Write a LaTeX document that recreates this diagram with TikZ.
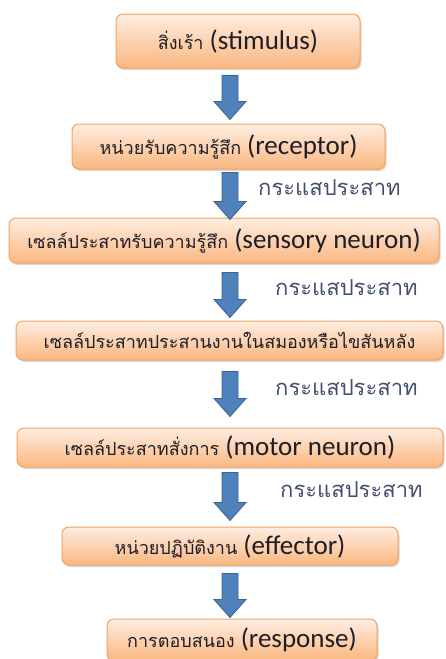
\documentclass[tikz,border=0pt]{standalone}
\usepackage{fontspec}
\setmainfont{Carlito}
\newfontfamily\thai[Script=Thai]{Loma}
\usetikzlibrary{shadows,calc}
\definecolor{boxtop}{HTML}{FEEDE1}
\definecolor{boxbot}{HTML}{FAB780}
\definecolor{boxline}{HTML}{F4A25F}
\definecolor{arrfill}{HTML}{4F81BD}
\definecolor{arrline}{HTML}{3A6390}
\definecolor{lab}{HTML}{44506C}
\definecolor{txt}{HTML}{1E1E28}
\newcommand\thtxt[1]{{\thai\fontsize{18}{21}\selectfont #1}}
\begin{document}
\begin{tikzpicture}[x=1pt,y=-1pt,
  stepbox/.style={draw=boxline, line width=1pt, rounded corners=7pt,
    top color=boxtop, bottom color=boxbot,
    drop shadow={shadow xshift=1.5pt, shadow yshift=-2pt, opacity=0.25, fill=black!60},
    font=\fontsize{27}{30}\selectfont, text=txt, inner sep=0pt},
  blockarrow/.style={fill=arrfill, draw=arrline, line width=0.8pt, line join=miter},
  nerve/.style={font=\thai\fontsize{22}{25}\selectfont, text=lab, anchor=west, inner sep=0pt}]
\useasboundingbox (0,0) rectangle (445,659);
\node[stepbox, minimum width=244pt, minimum height=54pt] (b1) at (238,41) {\thtxt{สิ่งเร้า} (stimulus)};
\node[stepbox, minimum width=313pt, minimum height=45pt] (b2) at (228.5,146.5) {\thtxt{หน่วยรับความรู้สึก} (receptor)};
\node[stepbox, minimum width=430pt, minimum height=45pt] (b3) at (224,240.5) {\thtxt{เซลล์ประสาทรับความรู้สึก} (sensory neuron)};
\node[stepbox, minimum width=427pt, minimum height=39pt] (b4) at (229.5,340.5) {\thtxt{เซลล์ประสาทประสานงานในสมองหรือไขสันหลัง}};
\node[stepbox, minimum width=426pt, minimum height=39pt] (b5) at (230,447.5) {\thtxt{เซลล์ประสาทสั่งการ} (motor neuron)};
\node[stepbox, minimum width=336pt, minimum height=38pt] (b6) at (230,546) {\thtxt{หน่วยปฏิบัติงาน} (effector)};
\node[stepbox, minimum width=270pt, minimum height=42pt] (b7) at (242,640) {\thtxt{การตอบสนอง} (response)};
\node[nerve] (l1) at (258,188) {กระแสประสาท};
\node[nerve] (l2) at (275,288) {กระแสประสาท};
\node[nerve] (l3) at (275,388) {กระแสประสาท};
\node[nerve] (l4) at (280,490) {กระแสประสาท};
\coordinate (ax) at (230,0);
\foreach \a/\b/\ta/\tb in {b1/b2/7/-4, b2/b3/3/2, b3/b4/9/-3, b4/b5/11/-11, b5/b6/5/-6, b6/b7/8/-1}{
  \draw[blockarrow] let \p1=($(\a.south -| ax)+(0,\ta)$), \p2=($(\b.north -| ax)+(0,\tb)$) in
    (\x1-8pt,\y1) -- (\x1+8pt,\y1) -- (\x1+8pt,\y2+18pt) -- (\x1+16pt,\y2+18pt) -- (\x2,\y2)
    -- (\x1-16pt,\y2+18pt) -- (\x1-8pt,\y2+18pt) -- cycle;
}
\end{tikzpicture}
\end{document}
